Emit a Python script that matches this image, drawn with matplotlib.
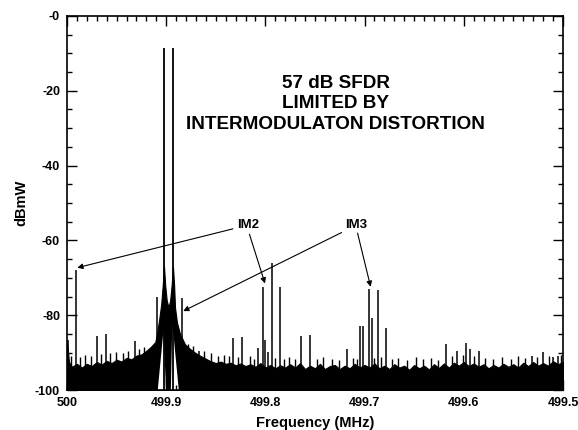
import matplotlib
matplotlib.use('Agg')
import matplotlib.pyplot as plt
from matplotlib.ticker import MultipleLocator

plt.rcParams['font.family'] = ['Liberation Sans', 'DejaVu Sans']
plt.rcParams['font.weight'] = 'bold'

# noise floor + skirts around the two tones (upper edge of the black band)
floor_freq = [500.000, 499.998, 499.995, 499.990, 499.985, 499.980, 499.975, 499.970,
              499.965, 499.960, 499.955, 499.950, 499.945, 499.940, 499.935, 499.930,
              499.925, 499.920, 499.916, 499.911, 499.909, 499.907, 499.905, 499.9035,
              499.9022, 499.9010, 499.8995, 499.8976, 499.8960, 499.8945, 499.8932,
              499.8920, 499.8911, 499.8891, 499.8861, 499.8810, 499.8760, 499.8710,
              499.8660, 499.8610, 499.8560, 499.8500, 499.8450, 499.8400, 499.8350,
              499.8300, 499.8250, 499.8200, 499.8150, 499.8100, 499.8050, 499.8000,
              499.7950, 499.7900, 499.7850, 499.7800, 499.7750, 499.7700, 499.7650,
              499.7600, 499.7550, 499.7500, 499.7450, 499.7400, 499.7350, 499.7300,
              499.7250, 499.7200, 499.7150, 499.7100, 499.7050, 499.7000, 499.6950,
              499.6900, 499.6850, 499.6800, 499.6750, 499.6700, 499.6650, 499.6600,
              499.6550, 499.6500, 499.6450, 499.6400, 499.6350, 499.6300, 499.6250,
              499.6200, 499.6150, 499.6100, 499.6050, 499.6000, 499.5950, 499.5900,
              499.5850, 499.5800, 499.5750, 499.5700, 499.5650, 499.5600, 499.5550,
              499.5500, 499.5450, 499.5400, 499.5350, 499.5300, 499.5250, 499.5200,
              499.5150, 499.5100, 499.5050, 499.5000]
floor_level = [-87.0, -92.5, -93.8, -93.0, -94.0, -93.0, -93.6, -92.5,
               -93.2, -92.2, -92.8, -91.9, -92.4, -91.4, -91.8, -90.8,
               -90.5, -89.5, -88.6, -87.2, -84.5, -81.0, -77.0, -72.0,
               -67.0, -72.0, -76.0, -78.0, -76.0, -72.0, -67.0,
               -72.0, -78.0, -82.0, -85.0, -87.8, -89.0, -90.0,
               -90.8, -91.5, -92.2, -92.8, -92.4, -93.0, -92.7,
               -93.4, -92.9, -93.6, -93.1, -93.8, -92.8, -94.0,
               -93.3, -94.2, -93.4, -94.0, -93.1, -94.0, -92.8,
               -94.4, -93.5, -94.2, -93.0, -94.4, -93.6, -93.3,
               -94.4, -93.5, -94.2, -93.0, -94.0, -93.3, -94.0,
               -92.9, -94.2, -93.5, -94.4, -93.1, -94.0, -93.5,
               -94.6, -93.3, -94.2, -93.5, -94.5, -93.1, -94.1,
               -92.9, -94.0, -92.7, -93.5, -92.5, -93.6, -92.9,
               -93.8, -93.1, -94.2, -93.3, -94.0, -93.0, -93.8,
               -93.1, -94.0, -92.7, -93.6, -92.5, -93.5, -92.8,
               -93.5, -92.3, -93.1, -92.5]

# small grass spikes sticking out of the floor
grass_freq = [499.996, 499.987, 499.982, 499.976, 499.966, 499.957, 499.951, 499.944,
              499.938, 499.927, 499.922, 499.878, 499.873, 499.862, 499.855, 499.848,
              499.842, 499.837, 499.828, 499.816, 499.811, 499.790, 499.781, 499.776,
              499.770, 499.748, 499.742, 499.733, 499.726, 499.712, 499.708, 499.690,
              499.683, 499.672, 499.666, 499.657, 499.648, 499.641, 499.633, 499.626,
              499.612, 499.601, 499.590, 499.579, 499.571, 499.561, 499.552, 499.545,
              499.538, 499.526, 499.514, 499.502]
grass_level = [-90.8, -91.2, -90.6, -91.0, -90.4, -90.2, -89.8, -90.0,
               -89.5, -89.0, -88.4, -87.8, -88.2, -89.6, -90.2, -90.8,
               -90.6, -91.0, -91.3, -91.0, -91.6, -91.5, -91.8, -91.2,
               -91.6, -91.8, -91.2, -91.6, -92.0, -91.4, -91.8, -91.5,
               -91.2, -91.8, -91.4, -92.0, -91.2, -91.7, -91.4, -91.9,
               -91.0, -90.6, -91.0, -91.5, -91.8, -91.3, -91.7, -91.0,
               -91.4, -91.2, -90.8, -90.6]

# white gaps under each tone
wedge1_freq = [499.9085, 499.9027, 499.9002]
wedge1_level = [-100, -84, -100]
wedge2_freq = [499.8953, 499.8938, 499.8873]
wedge2_level = [-100, -82, -100]

tone_freq = [499.9019, 499.8934]
tone_level = [-8.5, -8.5]

spur_freq = [499.9990, 499.9909, 499.9700, 499.9610, 499.9310, 499.9096, 499.8838,
             499.8665, 499.8324, 499.8239, 499.8071, 499.8021, 499.8004, 499.7977,
             499.7937, 499.7853, 499.7640, 499.7550, 499.7180, 499.7046, 499.7013,
             499.6956, 499.6922, 499.6868, 499.6784, 499.6183, 499.6072, 499.5980,
             499.5940, 499.5844, 499.5316, 499.5198, 499.5098, 499.5048]
spur_level = [-86.5, -67.9, -85.6, -85.0, -86.8, -75.1, -75.5,
              -89.6, -86.0, -85.7, -88.7, -72.5, -86.5, -89.8,
              -66.1, -72.5, -85.6, -85.3, -89.0, -83.0, -82.9,
              -73.0, -80.8, -73.3, -83.5, -87.7, -89.5, -87.5,
              -89.1, -89.5, -90.9, -89.8, -91.2, -90.9]

xticks = [500, 499.9, 499.8, 499.7, 499.6, 499.5]
xticklabels = ['500', '499.9', '499.8', '499.7', '499.6', '499.5']
yticks = [0, -20, -40, -60, -80, -100]
yticklabels = ['-0', '-20', '-40', '-60', '-80', '-100']

fig = plt.figure(figsize=(5.78, 4.30), dpi=100)
ax = fig.add_axes([0.1159, 0.0930, 0.8581, 0.8698])

ax.fill_between(floor_freq, -100, floor_level, color='black', lw=0.8)
ax.vlines(grass_freq, -100, grass_level, color='black', lw=1.0)
ax.vlines(tone_freq, -100, tone_level, color='black', lw=1.3)
ax.vlines(spur_freq, -100, spur_level, color='black', lw=1.1)
ax.fill(wedge1_freq, wedge1_level, color='white', lw=0)
ax.fill(wedge2_freq, wedge2_level, color='white', lw=0)

ax.text(499.7293, -23.5, "57 dB SFDR\nLIMITED BY\nINTERMODULATON DISTORTION",
        ha='center', va='center', fontsize=13.6, linespacing=1.25)

arrow = dict(arrowstyle='-|>', color='black', lw=0.8, mutation_scale=8, shrinkA=1, shrinkB=0)
ax.annotate('IM2', xy=(499.9896, -67.3), xytext=(499.8175, -55.9), ha='center', va='center',
            fontsize=9.5, arrowprops=arrow)
ax.annotate('', xy=(499.8004, -71.5), xytext=(499.8165, -58.0), arrowprops=arrow)
ax.annotate('IM3', xy=(499.8828, -78.9), xytext=(499.7080, -55.9), ha='center', va='center',
            fontsize=9.5, arrowprops=arrow)
ax.annotate('', xy=(499.6939, -72.4), xytext=(499.7074, -57.7), arrowprops=arrow)

ax.set_xlim(500, 499.5)
ax.set_ylim(-100, 0)
ax.set_xticks(xticks)
ax.set_xticklabels(xticklabels)
ax.set_yticks(yticks)
ax.set_yticklabels(yticklabels)
ax.xaxis.set_minor_locator(MultipleLocator(0.01))
ax.yaxis.set_minor_locator(MultipleLocator(5))
ax.tick_params(which='both', direction='in', top=True, right=True, width=1, labelsize=9, pad=5)
ax.tick_params(which='major', length=7)
ax.tick_params(which='minor', length=3.5)
for s in ax.spines.values():
    s.set_linewidth(1.2)

ax.set_xlabel('Frequency (MHz)', fontsize=10.5, fontweight='bold', labelpad=5)
ax.set_ylabel('dBmW', fontsize=10.5, fontweight='bold', labelpad=5)

plt.savefig('out.png', dpi=100)
